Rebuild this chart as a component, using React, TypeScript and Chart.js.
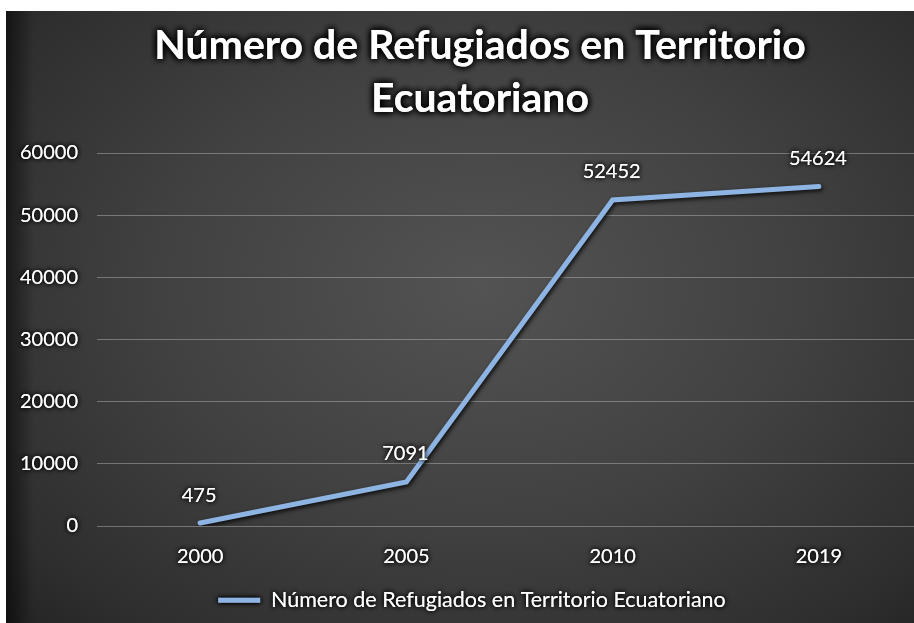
import React, { useEffect, useRef } from 'react';
import { Chart, registerables } from 'chart.js';

Chart.register(...registerables);

const categories = ['2000', '2005', '2010', '2019'];
const refugees = [475, 7091, 52452, 54624];
const yTickValues = [0, 10000, 20000, 30000, 40000, 50000, 60000];
const titleLines = ['Número de Refugiados en Territorio', 'Ecuatoriano'];
const seriesName = 'Número de Refugiados en Territorio Ecuatoriano';

const FONT = "Lato, 'Open Sans', sans-serif";
const CANVAS_W = 950;
const CANVAS_H = 612;
const AREA_BOTTOM = 515;
const PAD_BOTTOM = 2;

function shadowed(ctx: CanvasRenderingContext2D, blur: number, times: number, dx: number, fn: () => void) {
  ctx.save();
  if (dx) ctx.translate(dx, 0);
  ctx.shadowColor = 'rgba(0,0,0,1)';
  ctx.shadowBlur = blur;
  ctx.shadowOffsetX = 0;
  ctx.shadowOffsetY = 0;
  for (let i = 0; i < times; i++) fn();
  ctx.restore();
}

const shadowPlugin = {
  id: 'textShadows',
  beforeDraw(chart: any) {
    const patch = (obj: any, key: string, blur: number, times: number, dx: number) => {
      if (!obj || obj['__patched_' + key]) return;
      const orig = obj[key].bind(obj);
      obj[key] = (...args: any[]) => shadowed(chart.ctx, blur, times, dx, () => orig(...args));
      obj['__patched_' + key] = true;
    };
    patch(chart.scales.x, 'drawLabels', 5, 2, 0);
    patch(chart.scales.y, 'drawLabels', 5, 2, 0);
    patch(chart.titleBlock, 'draw', 7, 3, 16);
    patch(chart.legend, 'draw', 5, 2, 8);
  },
  beforeDatasetsDraw(chart: any) {
    const ctx = chart.ctx;
    ctx.save();
    ctx.shadowColor = 'rgba(0,0,0,0.85)';
    ctx.shadowBlur = 4;
    ctx.shadowOffsetX = 1.5;
    ctx.shadowOffsetY = 2;
  },
  afterDatasetsDraw(chart: any) {
    const ctx = chart.ctx;
    ctx.restore();
    const meta = chart.getDatasetMeta(0);
    ctx.save();
    ctx.font = `20px ${FONT}`;
    ctx.textAlign = 'center';
    ctx.textBaseline = 'middle';
    meta.data.forEach((pt: any, i: number) => {
      shadowed(ctx, 5, 2, 0, () => {
        ctx.fillStyle = '#ffffff';
        ctx.fillText(String(refugees[i]), pt.x - 1, pt.y - 28);
      });
    });
    ctx.restore();
  },
};

export default function App() {
  const ref = useRef<HTMLCanvasElement | null>(null);

  useEffect(() => {
    document.body.style.margin = '0';
    const canvas = ref.current;
    if (!canvas) return;
    const chart = new Chart(canvas, {
      type: 'line',
      data: {
        labels: categories,
        datasets: [
          {
            label: seriesName,
            data: refugees,
            borderColor: '#8db4e2',
            backgroundColor: '#8db4e2',
            borderWidth: 5,
            pointRadius: 0,
            pointHoverRadius: 0,
            tension: 0,
            borderCapStyle: 'round',
            borderJoinStyle: 'miter',
          },
        ],
      },
      options: {
        responsive: false,
        animation: false,
        layout: { padding: { left: 0, right: 34, top: 0, bottom: PAD_BOTTOM } },
        plugins: {
          title: {
            display: true,
            text: titleLines,
            color: '#ffffff',
            font: { family: FONT, size: 41, weight: 'bold', lineHeight: 1.305 },
            padding: { top: 8, bottom: 27 },
          },
          legend: {
            display: true,
            position: 'bottom',
            labels: {
              color: '#ffffff',
              font: { family: FONT, size: 21.5 },
              usePointStyle: true,
              pointStyle: 'line',
              pointStyleWidth: 42,
              boxHeight: 20,
              padding: 10,
            },
          },
          tooltip: { enabled: false },
        },
        scales: {
          x: {
            offset: true,
            grid: { display: false, drawTicks: false },
            border: { display: false },
            ticks: {
              color: '#ffffff',
              font: { family: FONT, size: 20 },
              padding: 19,
            },
            afterFit: (scale: any) => {
              const lh = scale.chart.legend ? scale.chart.legend.height : 0;
              scale.height = CANVAS_H - PAD_BOTTOM - lh - AREA_BOTTOM;
            },
          },
          y: {
            min: 0,
            max: 60000,
            grid: { color: 'rgba(190,190,190,0.45)', lineWidth: 1, drawTicks: false },
            border: { display: false },
            afterBuildTicks: (scale: any) => {
              scale.ticks = yTickValues.map((v) => ({ value: v }));
            },
            ticks: {
              color: '#ffffff',
              font: { family: FONT, size: 20 },
              padding: 19,
              callback: (v: any) => String(v),
            },
            afterFit: (scale: any) => {
              scale.width = 91;
            },
          },
        },
      },
      plugins: [shadowPlugin],
    });
    return () => chart.destroy();
  }, []);

  return (
    <div style={{ position: 'relative', width: 914, height: 623, overflow: 'hidden', background: '#ffffff' }}>
      <div
        style={{
          position: 'absolute',
          left: 6,
          top: 11,
          width: CANVAS_W,
          height: CANVAS_H,
          background:
            'linear-gradient(to right, rgba(0,0,0,0.55) 0px, rgba(0,0,0,0) 28px), radial-gradient(ellipse 75% 85% at 50% 45%, #535353 0%, #414141 45%, #2e2e2e 80%, #1e1e1e 100%)',
        }}
      >
        <canvas ref={ref} width={CANVAS_W} height={CANVAS_H} style={{ display: 'block' }} />
      </div>
    </div>
  );
}
